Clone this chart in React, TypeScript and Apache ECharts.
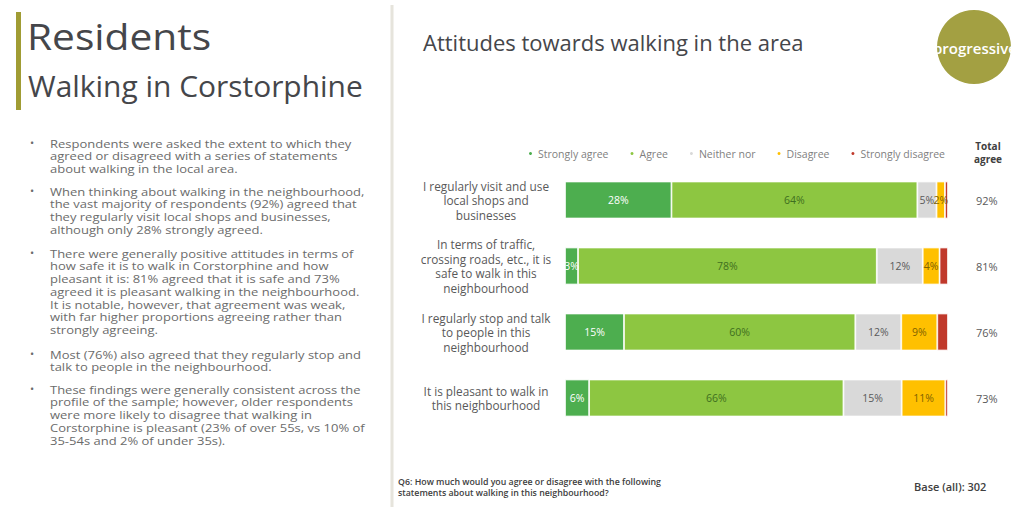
import React, { useEffect, useRef } from "react";
import * as echarts from "echarts";

const statements = [
  "I regularly visit and use\nlocal shops and\nbusinesses",
  "In terms of traffic,\ncrossing roads, etc., it is\nsafe to walk in this\nneighbourhood",
  "I regularly stop and talk\nto people in this\nneighbourhood",
  "It is pleasant to walk in\nthis neighbourhood",
];
const seriesNames = ["Strongly agree", "Agree", "Neither nor", "Disagree", "Strongly disagree"];
const stronglyAgree = [27.8, 3.4, 15.4, 6.3];
const agree = [64.2, 78.0, 60.4, 66.4];
const neitherNor = [5.0, 12.0, 12.0, 15.2];
const disagree = [2.2, 4.4, 9.4, 11.4];
const stronglyDisagree = [0.8, 2.2, 2.8, 0.7];
const totalAgree = ["92%", "81%", "76%", "73%"];

const bullets = [
  [
    "Respondents were asked the extent to which they",
    "agreed or disagreed with a series of statements",
    "about walking in the local area.",
  ],
  [
    "When thinking about walking in the neighbourhood,",
    "the vast majority of respondents (92%) agreed that",
    "they regularly visit local shops and businesses,",
    "although only 28% strongly agreed.",
  ],
  [
    "There were generally positive attitudes in terms of",
    "how safe it is to walk in Corstorphine and how",
    "pleasant it is: 81% agreed that it is safe and 73%",
    "agreed it is pleasant walking in the neighbourhood.",
    "It is notable, however, that agreement was weak,",
    "with far higher proportions agreeing rather than",
    "strongly agreeing.",
  ],
  [
    "Most (76%) also agreed that they regularly stop and",
    "talk to people in the neighbourhood.",
  ],
  [
    "These findings were generally consistent across the",
    "profile of the sample; however, older respondents",
    "were more likely to disagree that walking in",
    "Corstorphine is pleasant (23% of over 55s, vs 10% of",
    "35-54s and 2% of under 35s).",
  ],
];
const bulletTops = [137, 185, 247, 348, 383];

const FONT = "'Open Sans', 'Noto Sans', sans-serif";
const colors = ["#4DAE4F", "#8DC641", "#D9D9D9", "#FFC000", "#C0392B"];
const labelColors = ["#FFFFFF", "#3F6F1F", "#595959", "#7F6000", "#FFFFFF"];

export default function App() {
  const ref = useRef<HTMLDivElement>(null);
  useEffect(() => {
    if (!ref.current) return;
    const chart = echarts.init(ref.current, null, { renderer: "svg" });
    const data = [stronglyAgree, agree, neitherNor, disagree, stronglyDisagree];
    const LINE_H = 12.7;
    const bulletGraphics: any[] = [];
    bullets.forEach((lines, i) => {
      bulletGraphics.push({
        type: "text",
        x: 30,
        y: bulletTops[i],
        style: { text: "•", fill: "#6B6B6B", font: `11px ${FONT}` },
      });
      bulletGraphics.push({
        type: "text",
        x: 50,
        y: bulletTops[i],
        scaleX: 1.25,
        style: {
          text: lines.join("\n"),
          fill: "#6B6B6B",
          font: `10.4px ${FONT}`,
          lineHeight: LINE_H,
        },
      });
    });

    chart.setOption({
      animation: false,
      backgroundColor: "#FFFFFF",
      color: colors,
      textStyle: { fontFamily: FONT },
      legend: {
        top: 143,
        left: 522,
        icon: "circle",
        itemWidth: 5,
        itemHeight: 5,
        itemGap: 20,
        textStyle: { fontSize: 10.5, color: "#7F7F7F", fontFamily: FONT },
        data: seriesNames,
      },
      grid: { left: 565, right: 68, top: 167, height: 264 },
      xAxis: { type: "value", min: 0, max: 100, show: false },
      yAxis: [
        {
          type: "category",
          inverse: true,
          data: statements,
          axisLine: { show: false },
          axisTick: { show: false },
          axisLabel: {
            align: "center",
            margin: 79,
            fontSize: 11.8,
            lineHeight: 14.5,
            color: "#595959",
            fontFamily: FONT,
          },
        },
        {
          type: "category",
          inverse: true,
          position: "right",
          data: totalAgree,
          axisLine: { show: false },
          axisTick: { show: false },
          axisLabel: {
            align: "left",
            margin: 28,
            fontSize: 11,
            color: "#595959",
            fontFamily: FONT,
          },
        },
      ],
      series: seriesNames.map((name, si) => ({
        name,
        type: "bar",
        stack: "total",
        barWidth: 37,
        data: data[si],
        itemStyle: { color: colors[si], borderColor: "#FFFFFF", borderWidth: 0.8 },
        label: {
          show: si < 4,
          position: "inside",
          color: labelColors[si],
          fontSize: 10.5,
          fontFamily: FONT,
          formatter: (p: any) => (p.value >= 2 ? Math.round(p.value) + "%" : ""),
        },
      })),
      graphic: [
        { type: "rect", shape: { x: 16, y: 12, width: 5, height: 98 }, style: { fill: "#A09C34" } },
        {
          type: "text",
          x: 27,
          y: 35,
          scaleX: 1.1,
          style: { text: "Residents", fill: "#45464A", font: `37px ${FONT}`, verticalAlign: "middle" },
        },
        {
          type: "text",
          x: 28,
          y: 86,
          scaleX: 1.05,
          style: { text: "Walking in Corstorphine", fill: "#45464A", font: `28.5px ${FONT}`, verticalAlign: "middle" },
        },
        ...bulletGraphics,
        {
          type: "line",
          shape: { x1: 392, y1: 5, x2: 392, y2: 507 },
          style: { stroke: "#E6E4DC", lineWidth: 3 },
        },
        {
          type: "text",
          x: 423,
          y: 42,
          style: { text: "Attitudes towards walking in the area", fill: "#45464A", font: `22px ${FONT}`, verticalAlign: "middle" },
        },
        { type: "circle", shape: { cx: 974, cy: 47, r: 37 }, style: { fill: "#A3A042" } },
        {
          type: "text",
          x: 933,
          y: 48,
          style: {
            text: "progressive",
            fill: "#FFFFFF",
            font: `600 15px ${FONT}`,
            align: "left",
            verticalAlign: "middle",
          },
        },
        {
          type: "text",
          x: 988,
          y: 139,
          style: {
            text: "Total\nagree",
            fill: "#404040",
            font: `bold 10px ${FONT}`,
            align: "center",
            lineHeight: 13,
          },
        },
        {
          type: "text",
          x: 398,
          y: 476,
          style: {
            text: "Q6: How much would you agree or disagree with the following\nstatements about walking in this neighbourhood?",
            fill: "#404040",
            font: `600 8.8px ${FONT}`,
            lineHeight: 11.5,
          },
        },
        {
          type: "text",
          x: 914,
          y: 481,
          style: { text: "Base (all): 302", fill: "#404040", font: `600 11px ${FONT}` },
        },
      ],
    });
    return () => chart.dispose();
  }, []);
  return (
    <div
      ref={ref}
      style={{ position: "fixed", left: 0, top: 0, width: 1016, height: 507 }}
    />
  );
}
